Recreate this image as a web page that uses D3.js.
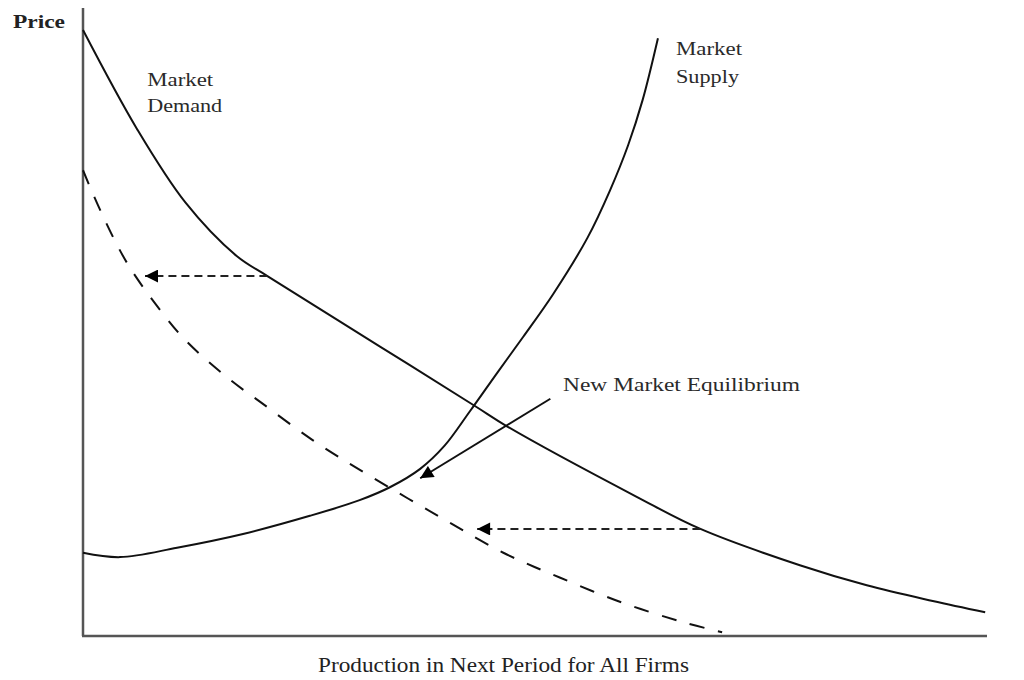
<!DOCTYPE html>
<html><head><meta charset="utf-8">
<script src="https://cdn.jsdelivr.net/npm/d3@7"></script>
<style>html,body{margin:0;padding:0;background:#fff;}svg{display:block;}</style>
</head><body>
<svg id="c" width="1024" height="680"></svg>
<script>
// Data (x: production 0-100, y: price 0-100)
const demandX = [0, 5.97, 11.3, 17.0, 20.4, 32.9, 43.4, 46.9, 61.3, 68.3, 79.3, 86.7, 94.0, 99.8];
const demandY = [96.8, 81.0, 69.3, 60.7, 57.5, 46.2, 36.7, 33.5, 22.2, 17.1, 11.3, 8.1, 5.6, 3.8];
const newDemandX = [0, 1.88, 4.87, 8.52, 11.5, 16.3, 19.6, 25.4, 31.7, 39.5, 46.5, 52.8, 59.7, 66.4, 70.7];
const newDemandY = [74.4, 68.1, 59.6, 52.1, 47.0, 40.9, 37.4, 31.3, 25.6, 19.0, 13.3, 9.3, 5.3, 2.2, 0.6];
const supplyX = [0, 4.1, 10.4, 17.7, 25.1, 30.6, 34.0, 37.3, 40.0, 42.8, 45.9, 48.7, 52.0, 55.8, 58.3, 60.3, 61.9, 63.6];
const supplyY = [13.3, 12.6, 14.1, 16.3, 19.2, 21.7, 23.8, 26.7, 30.4, 35.9, 42.2, 47.8, 54.6, 63.6, 71.2, 78.4, 85.6, 95.5];
const shiftArrows = [ {x1: 20.4, x2: 6.86, y: 57.5}, {x1: 68.3, x2: 43.6, y: 17.1} ];
const eqArrow = {x1: 51.7, y1: 37.9, x2: 37.3, y2: 25.2};
const labels = [
  {text: "Market", x: 7.1, y: 87.9, w: 66},
  {text: "Demand", x: 7.1, y: 83.7, w: 75},
  {text: "Market", x: 65.6, y: 92.8, w: 66},
  {text: "Supply", x: 65.6, y: 88.3, w: 63},
  {text: "New Market Equilibrium", x: 53.1, y: 39.1, w: 237}
];
const yTitle = "Price";
const xTitle = "Production in Next Period for All Firms";

const svg = d3.select("#c");
const x = d3.scaleLinear().domain([0, 100]).range([83, 987]);
const y = d3.scaleLinear().domain([0, 100]).range([636, 10]);

const defs = svg.append("defs");
defs.append("marker").attr("id", "ah").attr("viewBox", "0 0 10 10")
  .attr("refX", 10).attr("refY", 5).attr("markerWidth", 14).attr("markerHeight", 13)
  .attr("markerUnits", "userSpaceOnUse").attr("orient", "auto")
  .append("path").attr("d", "M0,0L10,5L0,10Z").attr("fill", "#000");

// axes
svg.append("line").attr("x1", x(0)).attr("x2", x(0)).attr("y1", y(100.3)).attr("y2", y(0))
  .attr("stroke", "#555").attr("stroke-width", 2.5);
svg.append("line").attr("x1", x(0) - 1).attr("x2", x(100)).attr("y1", y(0)).attr("y2", y(0))
  .attr("stroke", "#555").attr("stroke-width", 2.5);

const line = d3.line().x(d => x(d[0])).y(d => y(d[1])).curve(d3.curveCatmullRom.alpha(0.5));
const zip = (a, b) => a.map((v, i) => [v, b[i]]);

svg.append("path").attr("d", line(zip(newDemandX, newDemandY)))
  .attr("fill", "none").attr("stroke", "#111").attr("stroke-width", 2).attr("stroke-dasharray", "15,14");
svg.append("path").attr("d", line(zip(demandX, demandY)))
  .attr("fill", "none").attr("stroke", "#111").attr("stroke-width", 2);
svg.append("path").attr("d", line(zip(supplyX, supplyY)))
  .attr("fill", "none").attr("stroke", "#111").attr("stroke-width", 2);

svg.selectAll(".shift").data(shiftArrows).enter().append("line")
  .attr("x1", d => x(d.x1)).attr("x2", d => x(d.x2)).attr("y1", d => y(d.y)).attr("y2", d => y(d.y))
  .attr("stroke", "#222").attr("stroke-width", 2).attr("stroke-dasharray", "8,5")
  .attr("marker-end", "url(#ah)");

svg.append("line").attr("x1", x(eqArrow.x1)).attr("y1", y(eqArrow.y1))
  .attr("x2", x(eqArrow.x2)).attr("y2", y(eqArrow.y2))
  .attr("stroke", "#111").attr("stroke-width", 2).attr("marker-end", "url(#ah)");

const font = "'Liberation Serif', 'DejaVu Serif', serif";
svg.selectAll(".lbl").data(labels).enter().append("text")
  .attr("x", d => x(d.x)).attr("y", d => y(d.y)).text(d => d.text)
  .attr("font-family", font).attr("font-size", 19).attr("fill", "#2a2a2a")
  .attr("textLength", d => d.w).attr("lengthAdjust", "spacingAndGlyphs");

svg.append("text").attr("x", 13).attr("y", 28).text(yTitle)
  .attr("font-family", font).attr("font-size", 19).attr("font-weight", "bold").attr("fill", "#222")
  .attr("textLength", 52).attr("lengthAdjust", "spacingAndGlyphs");

svg.append("text").attr("x", 318).attr("y", 672).text(xTitle)
  .attr("font-family", font).attr("font-size", 21).attr("fill", "#222")
  .attr("textLength", 371).attr("lengthAdjust", "spacingAndGlyphs");
</script>
</body></html>
